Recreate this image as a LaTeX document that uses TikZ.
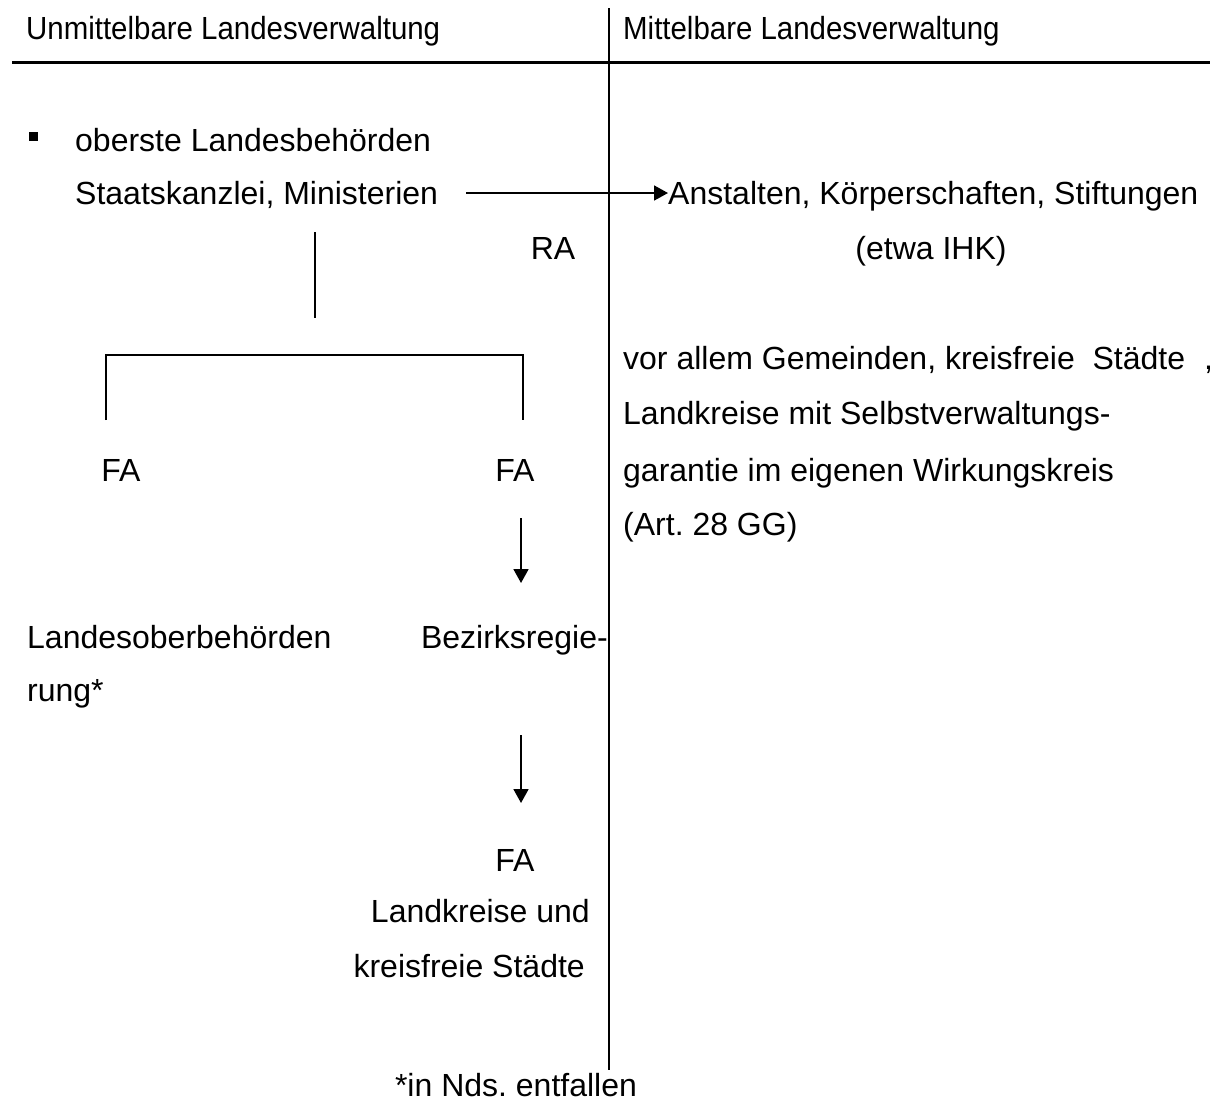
\documentclass[tikz,border=0pt]{standalone}
\usepackage{fontspec}
\setmainfont{Liberation Sans}
\usetikzlibrary{arrows.meta}
\begin{document}
\frenchspacing
\begin{tikzpicture}[x=1pt,y=-1pt,
  txt/.style={inner sep=0pt,anchor=base west,font=\fontsize{32}{38}\selectfont},
  ctxt/.style={inner sep=0pt,anchor=base,font=\fontsize{32}{38}\selectfont},
  rtxt/.style={inner sep=0pt,anchor=base east,font=\fontsize{32}{38}\selectfont},
  htxt/.style={inner sep=0pt,anchor=base west,xscale=0.92,font=\fontsize{32}{38}\selectfont},
  ln/.style={line width=1.8pt},
  arr/.style={line width=1.8pt,-{Triangle[length=14pt,width=15pt]}}]
\useasboundingbox (0,0) rectangle (1210,1106);
% frame lines
\coordinate (vtop) at (609,8);
\coordinate (vbot) at (609,1070);
\draw[ln] (vtop) -- (vbot);
\coordinate (hl) at (12,62);
\coordinate (hr) at (1210,62);
\draw[line width=3pt] (hl) -- (hr);
% header
\node[htxt] (h1) at (26,39) {Unmittelbare Landesverwaltung};
\node[htxt] (h2) at (623,39) {Mittelbare Landesverwaltung};
% left top
\node[fill=black,minimum size=9pt,inner sep=0pt] (bul) at (33,136) {};
\node[txt] (ob) at (75,151) {oberste Landesbehörden};
\node[txt] (sk) at (75,204) {Staatskanzlei, Ministerien};
\node[txt] (an) at (668,204) {Anstalten, Körperschaften, Stiftungen};
\node[ctxt] (ihk) at (931,259) {(etwa IHK)};
\node[ctxt] (ra) at (553,259) {RA};
\coordinate (a1s) at (466,193);
\draw[arr] (a1s) -- (an.west |- a1s);
% tree
\coordinate (t1) at (315,232);
\coordinate (t2) at (315,318);
\draw[ln] (t1) -- (t2);
\coordinate (bl) at (106,420);
\coordinate (br) at (523,420);
\draw[ln] (bl) -- (106,355) -- (523,355) -- (br);
\node[ctxt] (fa1) at (121,481) {FA};
\node[ctxt] (fa2) at (515,481) {FA};
% right block
\node[txt] (r1) at (623,369) {vor allem Gemeinden, kreisfreie\ \ Städte};
\node[txt] (comma) at (1204,369) {,};
\node[txt] (r2) at (623,424) {Landkreise mit Selbstverwaltungs-};
\node[txt] (r3) at (623,481) {garantie im eigenen Wirkungskreis};
\node[txt] (r4) at (623,535) {(Art. 28 GG)};
% lower left
\coordinate (a2s) at (521,518);
\coordinate (a2e) at (521,583);
\draw[arr] (a2s) -- (a2e);
\node[txt] (lob) at (27,648) {Landesoberbehörden};
\node[rtxt] (bz) at (608,648) {Bezirksregie-};
\node[txt] (rung) at (27,701) {rung*};
\coordinate (a3s) at (521,735);
\coordinate (a3e) at (521,803);
\draw[arr] (a3s) -- (a3e);
\node[ctxt] (fa3) at (515,871) {FA};
\node[rtxt] (lk1) at (590,922) {Landkreise und};
\node[rtxt] (lk2) at (585,977) {kreisfreie Städte};
\node[ctxt] (nds) at (516,1096) {*in Nds. entfallen};
\end{tikzpicture}
\end{document}
